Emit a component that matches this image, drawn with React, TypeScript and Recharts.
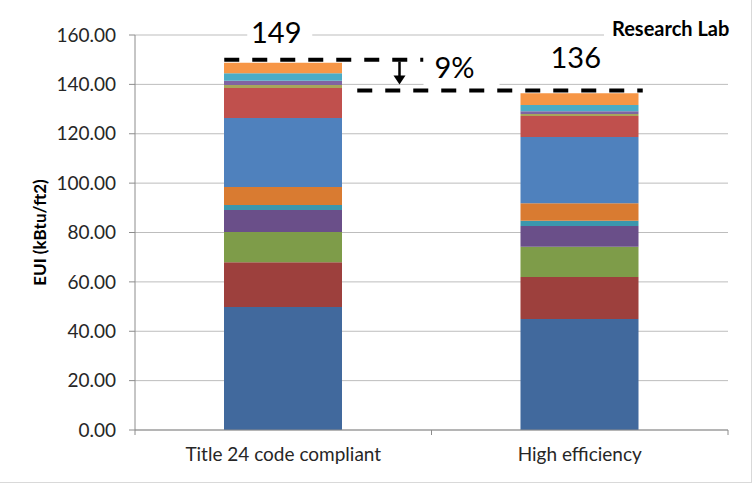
import React from "react";
import { BarChart, Bar, XAxis, YAxis, CartesianGrid, ReferenceLine } from "recharts";

const categories = ["Title 24 code compliant", "High efficiency"];
const seriesA = [49.8, 45.0];
const seriesB = [18.2, 17.0];
const seriesC = [12.2, 12.2];
const seriesD = [8.9, 8.4];
const seriesE = [2.0, 2.2];
const seriesF = [7.3, 7.0];
const seriesG = [28.0, 26.9];
const seriesH = [12.1, 8.5];
const seriesI = [1.2, 0.8];
const seriesJ = [1.8, 1.1];
const seriesK = [3.0, 2.5];
const seriesL = [4.3, 4.8];
const totalLabels = ["149", "136"];
const savingLabel = "9%";
const dashLevels = [150, 137.5];
const yTicks = [0, 20, 40, 60, 80, 100, 120, 140, 160];

const seriesList = [
  { key: "s1", values: seriesA, color: "#41699D" },
  { key: "s2", values: seriesB, color: "#9D403D" },
  { key: "s3", values: seriesC, color: "#7E9C49" },
  { key: "s4", values: seriesD, color: "#6A4F89" },
  { key: "s5", values: seriesE, color: "#3B97AD" },
  { key: "s6", values: seriesF, color: "#D97B31" },
  { key: "s7", values: seriesG, color: "#4F81BD" },
  { key: "s8", values: seriesH, color: "#C0504D" },
  { key: "s9", values: seriesI, color: "#A7A65B" },
  { key: "s10", values: seriesJ, color: "#8064A2" },
  { key: "s11", values: seriesK, color: "#4BACC6" },
  { key: "s12", values: seriesL, color: "#F79646" },
];

const data = categories.map((name, i) => {
  const row: Record<string, string | number> = { name };
  seriesList.forEach((s) => {
    row[s.key] = s.values[i];
  });
  return row;
});

const BAR_SIZE = 118;
const FONT = "Lato, 'Open Sans', sans-serif";
const DASH = "15 13";

function geom(p: any) {
  const x1 = Number(p.x1);
  const x2 = Number(p.x2);
  const band = (x2 - x1) / categories.length;
  const center = (i: number) => x1 + band * (i + 0.5);
  return { x1, x2, band, center, y: Number(p.y1) };
}

const TopShape = (p: any) => {
  const g = geom(p);
  const left = g.center(0) - BAR_SIZE / 2;
  const end = g.x1 + g.band - 8;
  return (
    <g>
      <rect x={g.center(0) - 36} y={g.y - 42} width={65} height={28} fill="#fff" />
      <text x={g.center(0) - 7} y={g.y - 17} textAnchor="middle" fontSize={29} fontFamily={FONT} fill="#000">
        {totalLabels[0]}
      </text>
      <line x1={left} x2={end} y1={g.y} y2={g.y} stroke="#000" strokeWidth={4} strokeDasharray={DASH} />
    </g>
  );
};

const SecondShape = (p: any) => {
  const g = geom(p);
  const start = g.center(0) + BAR_SIZE / 2 + 15;
  const end = g.center(1) + BAR_SIZE / 2 + 4;
  const ax = g.x1 + g.band - 32;
  return (
    <g>
      <rect x={g.x1 + g.band - 8} y={g.y - 38} width={76} height={34} fill="#fff" />
      <text x={g.x1 + g.band + 23} y={g.y - 13} textAnchor="middle" fontSize={29} fontFamily={FONT} fill="#000">
        {savingLabel}
      </text>
      <text x={g.center(1) - 4} y={g.y - 23} textAnchor="middle" fontSize={29} fontFamily={FONT} fill="#000">
        {totalLabels[1]}
      </text>
      <line x1={ax} x2={ax} y1={g.y - 29} y2={g.y - 12} stroke="#000" strokeWidth={2.5} />
      <path d={`M${ax - 6},${g.y - 15} L${ax + 6},${g.y - 15} L${ax},${g.y - 6} Z`} fill="#000" />
      <line x1={start} x2={end} y1={g.y} y2={g.y} stroke="#000" strokeWidth={4} strokeDasharray={DASH} />
    </g>
  );
};

const BaseShape = (p: any) => {
  const g = geom(p);
  const ticks = [];
  for (let i = 0; i <= categories.length; i++) {
    const x = g.x1 + g.band * i;
    ticks.push(<line key={i} x1={x} x2={x} y1={g.y} y2={g.y + 5} stroke="#8C8C8C" strokeWidth={1} />);
  }
  return <g>{ticks}</g>;
};

export default function App() {
  return (
    <div
      style={{
        position: "absolute",
        left: 0,
        top: 0,
        width: 751,
        height: 482,
        background: "#fff",
        borderRight: "1px solid #D9D9D9",
        borderBottom: "1px solid #D9D9D9",
      }}
    >
      <BarChart
        width={752}
        height={483}
        data={data}
        margin={{ top: 35, right: 24, left: 0, bottom: 0 }}
        barSize={BAR_SIZE}
      >
        <CartesianGrid vertical={false} stroke="#BDBDBD" />
        <XAxis
          dataKey="name"
          height={53}
          tickLine={false}
          axisLine={{ stroke: "#8C8C8C" }}
          tick={{ fill: "#262626", fontSize: 19, fontFamily: FONT }}
          tickMargin={12}
        />
        <YAxis
          width={135}
          domain={[0, 160]}
          ticks={yTicks}
          interval={0}
          tickFormatter={(v: number) => v.toFixed(2)}
          axisLine={{ stroke: "#8C8C8C" }}
          tickLine={{ stroke: "#8C8C8C" }}
          tickSize={6}
          tickMargin={13}
          tick={{ fill: "#262626", fontSize: 19, fontFamily: FONT }}
          label={{
            value: "EUI (kBtu/ft2)",
            angle: -90,
            position: "center",
            dx: -28,
            dy: 0,
            style: { fontSize: 17, fontWeight: 700, fontFamily: FONT, fill: "#000" },
          }}
        />
        {seriesList.map((s) => (
          <Bar key={s.key} dataKey={s.key} stackId="a" fill={s.color} isAnimationActive={false} />
        ))}
        <ReferenceLine y={0} shape={BaseShape} />
        <ReferenceLine y={dashLevels[0]} shape={TopShape} />
        <ReferenceLine y={dashLevels[1]} shape={SecondShape} />
      </BarChart>
      <div
        style={{
          position: "absolute",
          left: 604,
          top: 13,
          width: 146,
          height: 30,
          background: "#fff",
          fontFamily: FONT,
          fontWeight: 700,
          fontSize: 20,
          lineHeight: "30px",
          color: "#000",
          paddingLeft: 8,
          boxSizing: "border-box",
          whiteSpace: "nowrap",
        }}
      >
        Research Lab
      </div>
    </div>
  );
}
